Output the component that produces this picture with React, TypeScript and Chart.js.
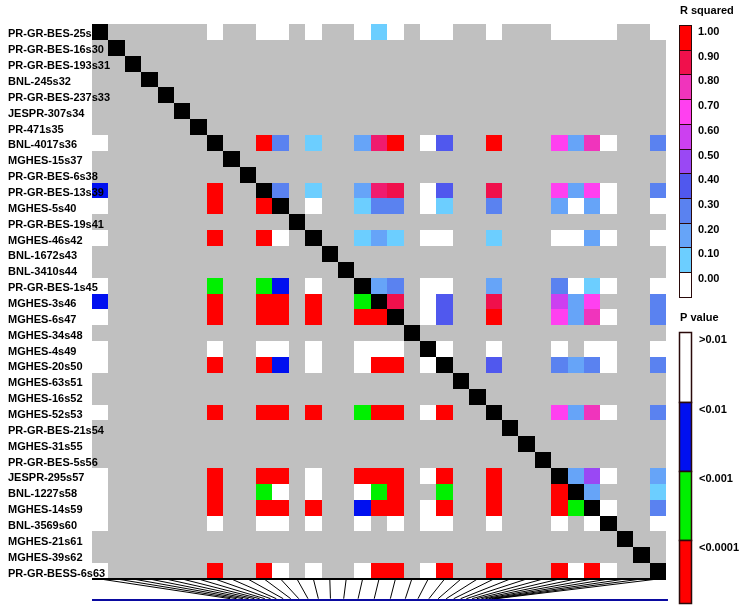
import { useEffect, useRef } from "react";
import { Chart, registerables } from "chart.js";

Chart.register(...registerables);

// ---------- data ----------
const markerNames = [
  "PR-GR-BES-25s29", "PR-GR-BES-16s30", "PR-GR-BES-193s31", "BNL-245s32", "PR-GR-BES-237s33",
  "JESPR-307s34", "PR-471s35", "BNL-4017s36", "MGHES-15s37", "PR-GR-BES-6s38",
  "PR-GR-BES-13s39", "MGHES-5s40", "PR-GR-BES-19s41", "MGHES-46s42", "BNL-1672s43",
  "BNL-3410s44", "PR-GR-BES-1s45", "MGHES-3s46", "MGHES-6s47", "MGHES-34s48",
  "MGHES-4s49", "MGHES-20s50", "MGHES-63s51", "MGHES-16s52", "MGHES-52s53",
  "PR-GR-BES-21s54", "MGHES-31s55", "PR-GR-BES-5s56", "JESPR-295s57", "BNL-1227s58",
  "MGHES-14s59", "BNL-3569s60", "MGHES-21s61", "MGHES-39s62", "PR-GR-BESS-6s63",
];

// markers (indices into markerNames) that have LD values
const activeMarkers = [0, 7, 10, 11, 13, 16, 17, 18, 20, 21, 24, 28, 29, 30, 31, 34];

// R squared, upper triangle: row i lists values versus activeMarkers[i+1..]
const rSquaredRows: (number | null)[][] = [
  [0, 0, 0, 0, 0, 0.1, 0, 0, 0, 0, 0, 0, 0, 0, 0],
  [1, 0.3, 0.1, 0.2, 0.87, 1, 0, 0.4, 1, 0.7, 0.2, 0.8, 0, 0.3],
  [0.3, 0.1, 0.2, 0.87, 0.9, 0, 0.4, 0.9, 0.7, 0.2, 0.7, 0, 0.3],
  [0, 0.1, 0.3, 0.3, 0, 0.1, 0.3, 0.2, 0, 0.2, 0, 0],
  [0.1, 0.2, 0.1, 0, 0, 0.1, 0, 0, 0.2, 0, 0],
  [0.2, 0.3, 0, 0, 0.2, 0.3, 0, 0.1, 0, 0],
  [0.9, 0, 0.4, 0.9, 0.6, 0.2, 0.7, null, 0.3],
  [0, 0.4, 1, 0.7, 0.2, 0.8, 0, 0.3],
  [0, 0, 0, null, 0, 0, 0],
  [0.4, 0.3, 0.2, 0.3, 0, 0.3],
  [0.7, 0.2, 0.8, 0, 0.3],
  [0.2, 0.5, 0, 0.2],
  [0.2, null, 0.1],
  [0, 0.3],
  [0],
];

// P value class, lower triangle: row i lists classes versus activeMarkers[0..i-1]
// 0: >0.01, 1: <0.01, 2: <0.001, 3: <0.0001
const pValueRows: (number | null)[][] = [
  [],
  [0],
  [1, 3],
  [0, 3, 3],
  [0, 3, 3, 0],
  [0, 2, 2, 1, 0],
  [1, 3, 3, 3, 3, 2],
  [0, 3, 3, 3, 3, 3, 3],
  [0, 0, 0, 0, 0, 0, 0, 0],
  [0, 3, 3, 1, 0, 0, 3, 3, 0],
  [0, 3, 3, 3, 3, 2, 3, 3, 0, 3],
  [0, 3, 3, 3, 0, 3, 3, 3, 0, 3, 3],
  [0, 3, 2, 0, 0, 0, 2, 3, null, 2, 3, 3],
  [0, 3, 3, 3, 3, 1, 3, 3, 0, 3, 3, 3, 2],
  [0, 0, 0, 0, 0, 0, null, 0, 0, 0, 0, 0, null, 0],
  [0, 3, 3, 0, 0, 0, 3, 3, 0, 3, 3, 3, 0, 3, 0],
];

// relative physical position of each marker along the map line (0..1)
const mapPositions = [
  0.24, 0.251, 0.262, 0.272, 0.282, 0.291, 0.3, 0.31, 0.32, 0.332,
  0.345, 0.359, 0.375, 0.393, 0.414, 0.437, 0.462, 0.49, 0.518, 0.544,
  0.566, 0.585, 0.601, 0.615, 0.628, 0.64, 0.65, 0.66, 0.668, 0.676,
  0.683, 0.689, 0.694, 0.698, 0.702,
];

const rSquaredTicks = ["1.00", "0.90", "0.80", "0.70", "0.60", "0.50", "0.40", "0.30", "0.20", "0.10", "0.00"];
const pValueTicks = [">0.01", "<0.01", "<0.001", "<0.0001"];

// ---------- styles ----------
const rSquaredColors = [
  "#FFFFFF", "#6CCEFF", "#66A4F8", "#5A82F0", "#5058EE", "#9A48F4",
  "#CC40F0", "#FF40F0", "#F034BC", "#F0104C", "#FF0000",
];
const pValueColors = ["#FFFFFF", "#0010F0", "#00F000", "#FF0000"];
const GREY = "#C0C0C0";
const N = markerNames.length;
const MAP_Y = 36.32;
const FAN_BOTTOM = 36.24;
const MAP_LEN = 35.12;

const hex = (c: string) => [1, 3, 5].map((i) => parseInt(c.slice(i, i + 2), 16));
const rColor = (v: number) => {
  const t = Math.max(0, Math.min(10, v * 10));
  const lo = Math.floor(t + 1e-6), hi = Math.min(10, lo + 1);
  const f = t - lo;
  if (f < 1e-3) return rSquaredColors[lo];
  const a = hex(rSquaredColors[lo]), b = hex(rSquaredColors[hi]);
  const m = a.map((x, i) => Math.round(x + (b[i] - x) * f));
  return `rgb(${m[0]},${m[1]},${m[2]})`;
};

const ldPlugin = {
  id: "ldPlugin",
  beforeDatasetsDraw(chart: any) {
    const { ctx, scales } = chart;
    const xs = scales.x;
    const ys = scales.y;
    const px = (v: number) => Math.round(xs.getPixelForValue(v));
    const py = (v: number) => Math.round(ys.getPixelForValue(v));
    const cell = (col: number, row: number, color: string) => {
      const x0 = px(col), x1 = px(col + 1), y0 = py(row), y1 = py(row + 1);
      ctx.fillStyle = color;
      ctx.fillRect(x0, y0, x1 - x0, y1 - y0);
    };
    ctx.save();
    ctx.fillStyle = GREY;
    ctx.fillRect(px(0), py(0), px(N) - px(0), py(N) - py(0));
    activeMarkers.forEach((ri, i) => {
      rSquaredRows[i]?.forEach((v, k) => {
        const cj = activeMarkers[i + 1 + k];
        if (v === null || v === undefined) return;
        cell(cj, ri, rColor(v));
      });
      pValueRows[i]?.forEach((v, k) => {
        const cj = activeMarkers[k];
        if (v === null || v === undefined) return;
        cell(cj, ri, pValueColors[v]);
      });
    });
    for (let d = 0; d < N; d++) cell(d, d, "#000000");
    ctx.restore();
  },
  afterDatasetsDraw(chart: any) {
    const { ctx, scales } = chart;
    const ys = scales.y;
    ctx.save();
    ctx.fillStyle = "#000";
    ctx.font = "bold 11px 'Liberation Sans', Arial, sans-serif";
    ctx.textAlign = "left";
    ctx.textBaseline = "middle";
    markerNames.forEach((name, r) => {
      ctx.fillText(name, 8, ys.getPixelForValue(r + 0.5) + 2.5);
    });

    // R squared legend
    const bx = 679, bw = 13;
    const rTop = 25, rSeg = 24.7;
    ctx.fillText("R squared", 680, 11);
    rSquaredTicks.forEach((t, i) => {
      const bin = 10 - i;
      const y0 = Math.round(rTop + i * rSeg);
      const y1 = Math.round(rTop + (i + 1) * rSeg);
      ctx.fillStyle = rSquaredColors[bin];
      ctx.fillRect(bx, y0, bw, y1 - y0);
      ctx.strokeStyle = "#2a0a0a";
      ctx.lineWidth = 1;
      ctx.strokeRect(bx + 0.5, y0 + 0.5, bw - 1, y1 - y0);
      ctx.fillStyle = "#000";
      ctx.fillText(t, 698, y0 + 7);
    });

    // P value legend
    const pTops = [332, 402, 471, 540, 603];
    ctx.fillText("P value", 680, 318);
    pValueTicks.forEach((t, i) => {
      const y0 = pTops[i], y1 = pTops[i + 1];
      ctx.fillStyle = pValueColors[i];
      ctx.fillRect(bx, y0, bw, y1 - y0);
      ctx.strokeStyle = "#2a0a0a";
      ctx.lineWidth = 1.5;
      ctx.strokeRect(bx + 0.5, y0 + 0.5, bw - 1, y1 - y0);
      ctx.fillStyle = "#000";
      ctx.fillText(t, 699, y0 + 8);
    });
    ctx.restore();
  },
};

export default function App() {
  const ref = useRef<HTMLCanvasElement | null>(null);
  useEffect(() => {
    if (!ref.current) return;
    const fan = markerNames.map((_, k) => ({
      type: "line" as const,
      data: [
        { x: k + 0.5, y: N },
        { x: mapPositions[k] * MAP_LEN, y: FAN_BOTTOM },
      ],
      borderColor: "#000000",
      borderWidth: 1,
      pointRadius: 0,
      showLine: true,
      fill: false,
      clip: false as any,
    }));
    const chart = new Chart(ref.current, {
      type: "scatter",
      data: {
        datasets: [
          ...fan,
          {
            type: "line",
            data: [{ x: 0, y: N }, { x: N, y: N }],
            borderColor: "#000000",
            borderWidth: 2,
            pointRadius: 0,
            showLine: true,
            clip: false as any,
          },
          {
            type: "line",
            data: [{ x: 0, y: MAP_Y }, { x: MAP_LEN, y: MAP_Y }],
            borderColor: "#0A0AA0",
            borderWidth: 2,
            pointRadius: 0,
            showLine: true,
            clip: false as any,
          },
        ] as any,
      },
      options: {
        animation: false,
        responsive: false,
        devicePixelRatio: 1,
        events: [],
        layout: { padding: { left: 92, right: 77, top: 24, bottom: 4.2 } },
        plugins: { legend: { display: false }, tooltip: { enabled: false } },
        scales: {
          x: { type: "linear", min: 0, max: N, display: false },
          y: { type: "linear", min: 0, max: 36.5, reverse: true, display: false },
        },
      },
      plugins: [ldPlugin],
    });
    return () => chart.destroy();
  }, []);
  return (
    <div style={{ position: "absolute", left: 0, top: 0, width: 743, height: 607, background: "#fff" }}>
      <canvas ref={ref} width={743} height={607} style={{ display: "block" }} />
    </div>
  );
}
